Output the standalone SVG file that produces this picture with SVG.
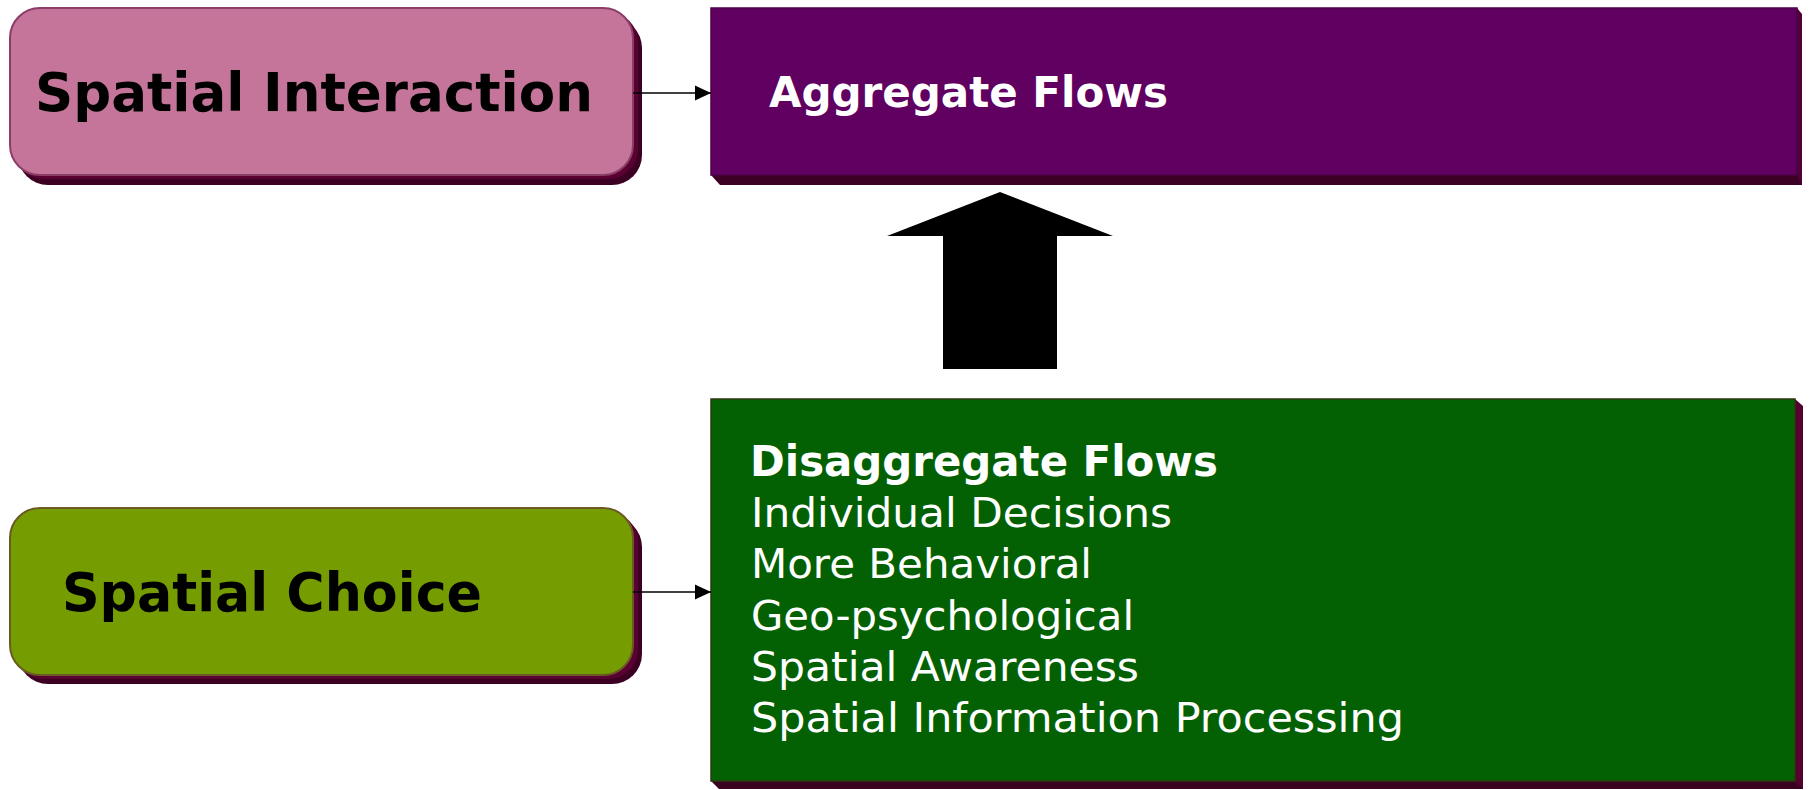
<svg xmlns="http://www.w3.org/2000/svg" width="1809" height="790" viewBox="0 0 1809 790">
<style>
.lbl{font-family:"DejaVu Sans","Verdana",sans-serif;font-weight:bold;fill:#000;font-size:53px}
.wb{font-family:"DejaVu Sans","Verdana",sans-serif;font-weight:bold;fill:#fff;font-size:42px}
.wr{font-family:"DejaVu Sans","Verdana",sans-serif;fill:#fff;font-size:41px}
.conn{stroke:#000;stroke-width:1.6;fill:none}
</style>
<defs>
<marker id="ah" markerWidth="16" markerHeight="16" refX="16" refY="8" orient="auto" markerUnits="userSpaceOnUse">
<path d="M0,0.5 L16,8 L0,15.5 Z" fill="#000"/>
</marker>
</defs>
<rect width="1809" height="790" fill="#fff"/>

<g id="node-spatial-interaction">
<rect x="18" y="18" width="624" height="167" rx="30" fill="#3c0022"/>
<rect x="14" y="12" width="624" height="167" rx="30" fill="#5a0032"/>
<rect x="10" y="8" width="623" height="167" rx="30" fill="#c47599" stroke="#8a3d66" stroke-width="2"/>
<text class="lbl" x="35" y="111" textLength="558" lengthAdjust="spacingAndGlyphs">Spatial Interaction</text>
</g>

<g id="node-aggregate-flows">
<polygon points="711,175 720,185 1802,185 1802,175" fill="#3c0024"/>
<polygon points="1797,8 1802,14 1802,185 1797,175" fill="#52003a"/>
<rect x="711" y="8" width="1086" height="167" fill="#600060" stroke="#4a0048" stroke-width="1.5"/>
<text class="wb" x="769" y="107" textLength="399" lengthAdjust="spacingAndGlyphs">Aggregate Flows</text>
</g>

<g id="node-spatial-choice">
<rect x="18" y="517" width="624" height="167" rx="30" fill="#3c0022"/>
<rect x="14" y="512" width="624" height="167" rx="30" fill="#5a0032"/>
<rect x="10" y="508" width="623" height="167" rx="30" fill="#759c00" stroke="#6b5a24" stroke-width="2"/>
<text class="lbl" x="62" y="611" textLength="420" lengthAdjust="spacingAndGlyphs">Spatial Choice</text>
</g>

<g id="node-disaggregate-flows">
<polygon points="711,781 719,789 1803,789 1803,781" fill="#3a001f"/>
<polygon points="1795,399 1803,406 1803,789 1795,781" fill="#55002f"/>
<rect x="711" y="399" width="1084" height="382" fill="#036003" stroke="#2b3a12" stroke-width="1.5"/>
<text class="wb" x="750" y="476" textLength="468" lengthAdjust="spacingAndGlyphs">Disaggregate Flows</text>
<text class="wr" x="751" y="527" textLength="421" lengthAdjust="spacingAndGlyphs">Individual Decisions</text>
<text class="wr" x="751" y="578" textLength="341" lengthAdjust="spacingAndGlyphs">More Behavioral</text>
<text class="wr" x="751" y="630" textLength="383" lengthAdjust="spacingAndGlyphs">Geo-psychological</text>
<text class="wr" x="751" y="681" textLength="388" lengthAdjust="spacingAndGlyphs">Spatial Awareness</text>
<text class="wr" x="751" y="732" textLength="653" lengthAdjust="spacingAndGlyphs">Spatial Information Processing</text>
</g>

<g id="connectors">
<line class="conn" x1="633" y1="93" x2="711" y2="93" marker-end="url(#ah)"/>
<line class="conn" x1="633" y1="592" x2="711" y2="592" marker-end="url(#ah)"/>
<polygon points="1000,192 1113,236 1057,236 1057,369 943,369 943,236 887,236" fill="#000"/>
</g>
</svg>
